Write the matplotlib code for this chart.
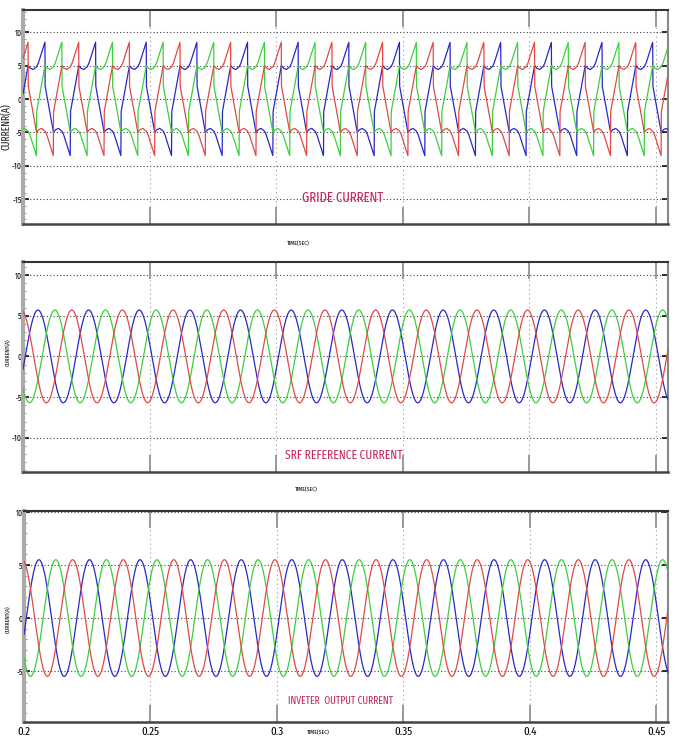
import numpy as np
import matplotlib.pyplot as plt
from matplotlib import font_manager as fm
from matplotlib.ticker import MultipleLocator

# time window of the simulation capture (s)
T_START = 0.2
T_END = 0.4547
FREQ = 50.0
x_ticks = [0.2, 0.25, 0.3, 0.35, 0.4, 0.45]
x_ticklabels = ['0.2', '0.25', '0.3', '0.35', '0.4', '0.45']

# grid current: one cycle of phase A read as (angle in deg, amps)
grid_deg = [0, 15, 36, 60, 72, 120, 120.5, 177,
            180, 195, 216, 240, 252, 300, 300.5, 357, 360]
grid_amp = [5.0, 4.6, 4.4, 4.8, 5.3, 8.5, 2.0, -4.6,
            -5.0, -4.6, -4.4, -4.8, -5.3, -8.5, -2.0, 4.6, 5.0]
grid_t0 = 0.2020          # start of cycle for phase A

# SRF reference and inverter output: peak amplitude and peak instant of phase A
srf_amp = 5.7
inv_amp = 5.5
peak_t = 0.2059

phase_colors = ['#2828c8', '#3ccf3c', '#e24848']   # a, b, c
phase_shift = [0.0, 1.0 / 3, 2.0 / 3]               # fraction of a cycle

titles = ['GRIDE CURRENT', 'SRF REFERENCE CURRENT', 'INVETER  OUTPUT CURRENT']
ylabels = ['CURRENR(A)', 'CURRENT(A)', 'CURRENT(A)']
y_ticks = [[-15, -10, -5, 0, 5, 10], [-10, -5, 0, 5, 10], [-5, 0, 5, 10]]
y_lims = [(-18.7, 13.3), (-14.2, 11.6), (-9.8, 10.1)]

TITLE_COLOR = '#c42a5c'


def narrow_font():
    # pick the narrowest regular face available, fall back to Liberation Sans
    files = [f.fname for f in fm.fontManager.ttflist]
    for key in ['ExtraCondensed', 'Condensed', 'Narrow']:
        for fn in sorted(files):
            base = fn.split('/')[-1]
            if key in base and not any(w in base for w in
                                       ['Bold', 'Italic', 'Light', 'Thin',
                                        'Black', 'Medium', 'Semi', 'Extra' if key != 'ExtraCondensed' else '@@']):
                return fm.FontProperties(fname=fn)
    return fm.FontProperties(family='Liberation Sans')


NARROW = narrow_font()

t = np.linspace(T_START, T_END, 6000)
period = 1.0 / FREQ


def grid_wave(shift):
    ang = ((t - grid_t0) / period - shift) % 1.0 * 360.0
    return np.interp(ang, grid_deg, grid_amp)


def sine_wave(amp, shift):
    return amp * np.cos(2 * np.pi * FREQ * (t - peak_t) - 2 * np.pi * shift)


def fp(size, weight='normal'):
    f = NARROW.copy()
    f.set_size(size)
    f.set_weight(weight)
    return f


def style_axes(ax, idx):
    ax.set_xlim(T_START, T_END)
    ax.set_ylim(*y_lims[idx])
    ax.set_xticks(x_ticks)
    ax.set_yticks(y_ticks[idx])
    ax.yaxis.set_minor_locator(MultipleLocator(1))
    # dotted grid at every tick
    for yv in y_ticks[idx]:
        ax.axhline(yv, color='#444444', lw=0.8, ls=(0, (1, 2)), zorder=1)
    for xv in x_ticks:
        ax.axvline(xv, color='#999999', lw=0.8, ls=(0, (1, 3)), zorder=1)
    ax.tick_params(axis='x', which='major', direction='in', length=12,
                   width=1.4, color='#999999', top=True, bottom=True,
                   labelbottom=(idx == 2), pad=3)
    ax.tick_params(axis='y', which='major', direction='in', length=4,
                   width=1.2, color='#111111', left=True, right=True, pad=1)
    ax.tick_params(axis='y', which='minor', direction='in', length=2,
                   width=0.6, color='#888888', left=True, right=False)
    ax.set_yticklabels([str(v) for v in y_ticks[idx]], fontproperties=fp(6))
    if idx == 2:
        ax.set_xticklabels(x_ticklabels, fontproperties=fp(8.5))
    ax.spines['left'].set_color('#aaaaaa')
    ax.spines['left'].set_linewidth(3)
    ax.spines['right'].set_color('#888888')
    ax.spines['right'].set_linewidth(1.5)
    ax.spines['top'].set_color('#333333')
    ax.spines['top'].set_linewidth(1.5)
    ax.spines['bottom'].set_color('#444444')
    ax.spines['bottom'].set_linewidth(1.8)


def Main():
    fig = plt.figure(figsize=(6.77, 7.42), dpi=100)
    boxes = [[0.034, 0.6981, 0.9527, 0.2884],
             [0.034, 0.3639, 0.9527, 0.2830],
             [0.0355, 0.0270, 0.9512, 0.2844]]
    axes = [fig.add_axes(b) for b in boxes]

    for c, s in zip(phase_colors, phase_shift):
        axes[0].plot(t, grid_wave(s), color=c, lw=0.9, zorder=3)
        axes[1].plot(t, sine_wave(srf_amp, s), color=c, lw=0.9, zorder=3)
        axes[2].plot(t, sine_wave(inv_amp, s), color=c, lw=0.9, zorder=3)

    for i, ax in enumerate(axes):
        style_axes(ax, i)

    # panel captions inside the axes
    fig.text(343 / 677, 1 - 198 / 742, titles[0], color=TITLE_COLOR,
             fontproperties=fp(10), ha='center', va='center')
    fig.text(344 / 677, 1 - 455 / 742, titles[1], color=TITLE_COLOR,
             fontproperties=fp(9), ha='center', va='center')
    fig.text(341 / 677, 1 - 701 / 742, titles[2], color=TITLE_COLOR,
             fontproperties=fp(7.5), ha='center', va='center')

    # x labels
    for xp, yp in [(298, 244), (306, 490), (318, 733)]:
        fig.text(xp / 677, 1 - yp / 742, 'TIME(SEC)', fontproperties=fp(4.5, 'bold'),
                 ha='center', va='center')

    # y labels
    fig.text(7 / 677, 1 - 127 / 742, ylabels[0], fontproperties=fp(7.5, 'bold'),
             rotation=90, ha='center', va='center', color='#222222')
    fig.text(8 / 677, 1 - 352 / 742, ylabels[1], fontproperties=fp(4.5),
             rotation=90, ha='center', va='center')
    fig.text(8 / 677, 1 - 619 / 742, ylabels[2], fontproperties=fp(4.5),
             rotation=90, ha='center', va='center')

    fig.savefig('out.png', dpi=100)
    plt.close(fig)


if __name__ == '__main__':
    Main()
